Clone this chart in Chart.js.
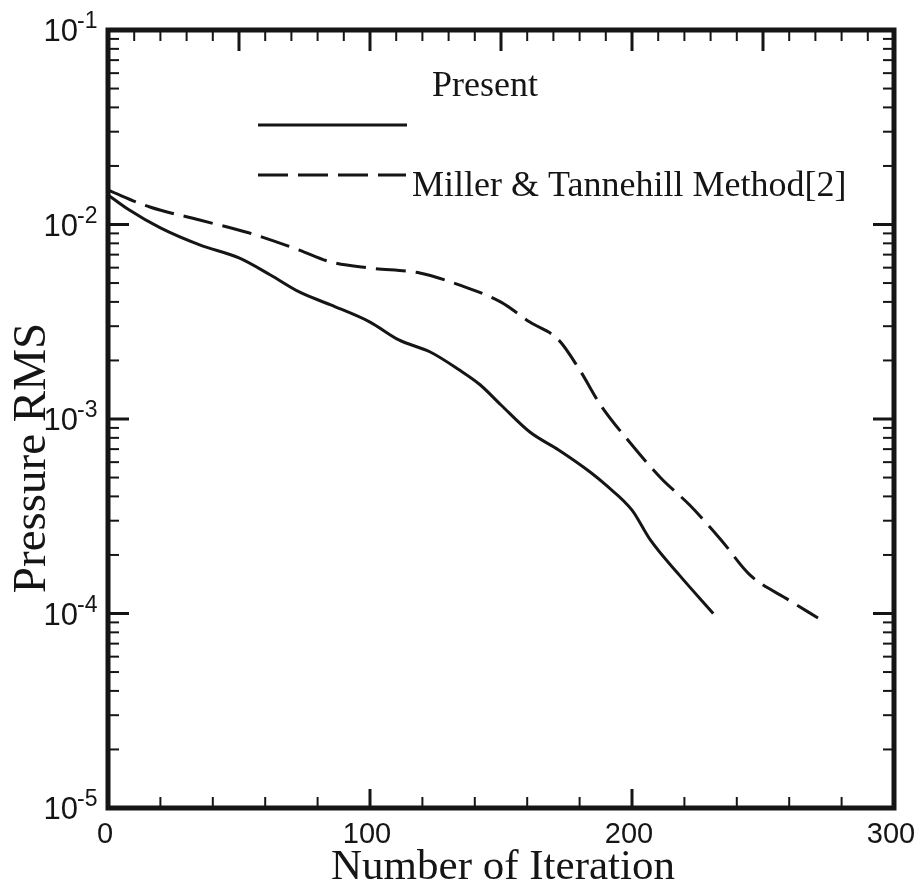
<!DOCTYPE html>
<html>
<head>
<meta charset="utf-8">
<script src="https://cdn.jsdelivr.net/npm/chart.js@4.4.0/dist/chart.umd.min.js"></script>
<style>
  body { margin: 0; background: #fff; }
  #wrap { width: 924px; height: 887px; }
</style>
</head>
<body>
<div id="wrap"><canvas id="myChart" width="924" height="887"></canvas></div>
<script>
// Values
var iterPresent = [0, 8, 20, 35, 50, 62, 73, 85, 100, 111, 123, 134, 142, 150, 161, 172, 184, 190, 200, 207, 218, 231];
var rmsPresent = [0.0142, 0.0119, 0.0096, 0.00785, 0.00673, 0.0055, 0.0045, 0.00386, 0.00315, 0.00255, 0.00221,
                  0.00179, 0.0015, 0.00118, 0.000857, 0.000693, 0.000534, 0.000458, 0.00034, 0.000239, 0.000158, 0.0001];

var iterMiller = [0, 16, 35, 54, 73, 85, 100, 119, 134, 150, 161, 172, 180, 188, 200, 211, 222, 234, 245, 260, 271];
var rmsMiller = [0.015, 0.0123, 0.01054, 0.00904, 0.00739, 0.00642, 0.00597, 0.00563, 0.00489, 0.00399, 0.00315,
                 0.00255, 0.00179, 0.00118, 0.000735, 0.000497, 0.000361, 0.000239, 0.000158, 0.000117, 0.0000948];

var seriesNames = ['Present', 'Miller & Tannehill Method[2]'];

// tick labels
var xTickLabels = [0, 100, 200, 300];
var yTickExps = [-1, -2, -3, -4, -5];

function toPoints(xs, ys) {
    var pts = [];
    for (var i = 0; i < xs.length; i++) pts.push({x: xs[i], y: ys[i]});
    return pts;
}

var ink = '#151515';

var chartData = {
    datasets: [{
        label: seriesNames[0],
        data: toPoints(iterPresent, rmsPresent),
        borderColor: ink,
        borderWidth: 3,
        pointRadius: 0,
        cubicInterpolationMode: 'monotone'
    }, {
        label: seriesNames[1],
        data: toPoints(iterMiller, rmsMiller),
        borderColor: ink,
        borderWidth: 3,
        borderDash: [30, 10],
        pointRadius: 0,
        cubicInterpolationMode: 'monotone'
    }]
};

// frame, inward ticks, labels and legend drawn on top of the chart
var framePlugin = {
    id: 'frame',
    afterDraw: function(chart) {
        var ctx = chart.ctx;
        var xs = chart.scales.x, ys = chart.scales.y;
        var a = chart.chartArea;
        ctx.save();
        ctx.strokeStyle = ink;
        ctx.fillStyle = ink;

        function tick(x1, y1, x2, y2, w) {
            ctx.lineWidth = w;
            ctx.beginPath();
            ctx.moveTo(x1, y1);
            ctx.lineTo(x2, y2);
            ctx.stroke();
        }
        var v, px, py, m;
        // bottom: major 100, minor 20
        for (v = 0; v <= 300; v += 20) {
            px = xs.getPixelForValue(v);
            m = (v % 100 === 0);
            tick(px, a.bottom, px, a.bottom - (m ? 19 : 11), m ? 3 : 2);
        }
        // top: major 50, minor 10
        for (v = 0; v <= 300; v += 10) {
            px = xs.getPixelForValue(v);
            m = (v % 50 === 0);
            tick(px, a.top, px, a.top + (m ? 21 : 11), m ? 3 : 2);
        }
        // left and right log ticks
        for (var e = -5; e <= -1; e++) {
            for (var k = 1; k <= 9; k++) {
                var val = k * Math.pow(10, e);
                py = ys.getPixelForValue(val);
                m = (k === 1);
                tick(a.left, py, a.left + (m ? 21 : 11), py, m ? 3 : 2);
                tick(a.right, py, a.right - (m ? 21 : 11), py, m ? 3 : 2);
                if (e === -1) break;
            }
        }

        // frame
        ctx.lineWidth = 5;
        ctx.strokeRect(a.left, a.top, a.right - a.left, a.bottom - a.top);

        // y tick labels 10^n
        ctx.textBaseline = 'alphabetic';
        yTickExps.forEach(function(ex) {
            py = ys.getPixelForValue(Math.pow(10, ex));
            ctx.font = '31px "Liberation Sans", Arial, sans-serif';
            ctx.textAlign = 'right';
            ctx.fillText('10', 78, py + 11);
            ctx.font = '23px "Liberation Sans", Arial, sans-serif';
            ctx.textAlign = 'left';
            ctx.fillText(String(ex), 77, py - 2);
        });

        // x tick labels
        ctx.font = '29px "Liberation Sans", Arial, sans-serif';
        ctx.textAlign = 'center';
        xTickLabels.forEach(function(t) {
            px = xs.getPixelForValue(t);
            ctx.fillText(String(t), px - 3, 843);
        });

        // axis titles
        ctx.font = '43px "Liberation Serif", "Times New Roman", serif';
        ctx.textAlign = 'center';
        ctx.fillText('Number of Iteration', 503, 879);
        ctx.save();
        ctx.translate(45, 458);
        ctx.rotate(-Math.PI / 2);
        ctx.font = '47px "Liberation Serif", "Times New Roman", serif';
        ctx.fillText('Pressure RMS', 0, 0);
        ctx.restore();

        // legend
        ctx.font = '36px "Liberation Serif", "Times New Roman", serif';
        ctx.textAlign = 'left';
        ctx.lineWidth = 3;
        ctx.beginPath();
        ctx.moveTo(258, 125);
        ctx.lineTo(407, 125);
        ctx.stroke();
        ctx.fillText(seriesNames[0], 432, 96);
        ctx.setLineDash([30, 10]);
        ctx.beginPath();
        ctx.moveTo(258, 175);
        ctx.lineTo(406, 175);
        ctx.stroke();
        ctx.setLineDash([]);
        ctx.fillText(seriesNames[1], 412, 196);

        ctx.restore();
    }
};

var chartOptions = {
    responsive: false,
    animation: false,
    layout: {
        padding: { left: 108, top: 30, right: 30, bottom: 79 }
    },
    scales: {
        x: { type: 'linear', min: 0, max: 300, display: false },
        y: { type: 'logarithmic', min: 1e-5, max: 1e-1, display: false }
    },
    plugins: {
        legend: { display: false },
        tooltip: { enabled: false }
    }
};

var element = document.getElementById('myChart').getContext('2d');
var chart = new Chart(element, {type: 'line', data: chartData, options: chartOptions, plugins: [framePlugin]});
</script>
</body>
</html>
